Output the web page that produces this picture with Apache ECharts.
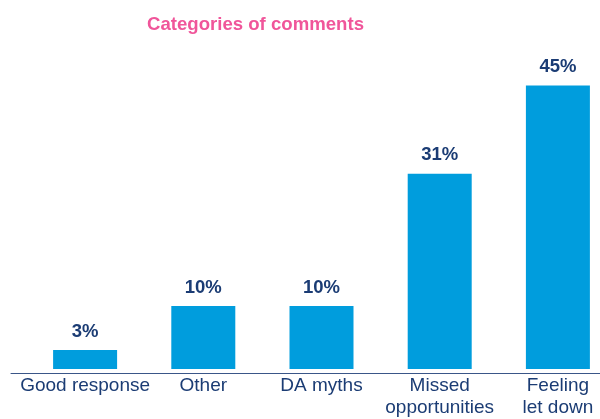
<!DOCTYPE html>
<html>
<head>
<meta charset="utf-8">
<script src="https://cdn.jsdelivr.net/npm/echarts@6/dist/echarts.min.js"></script>
<style>
  html, body { margin: 0; padding: 0; background: #ffffff; overflow: hidden; }
  /* the plot runs past the right edge of the page, so the last bar sits close to it */
  #chart { width: 617px; height: 419px; }
</style>
</head>
<body>
<div id="chart"></div>
<script>
// Comment categories and their share of all comments (%)
const categories = ['Good response', 'Other', 'DA myths', 'Missed\nopportunities', 'Feeling\nlet down'];
const shares = [3, 10, 10, 31, 45];
const chartTitle = 'Categories of comments';

const FONT = "'Liberation Sans', Arial, Helvetica, sans-serif";
const NAVY = '#1b3c74';
const BAR = '#009ddd';
const PINK = '#f0559a';

const chart = echarts.init(document.getElementById('chart'), null, { renderer: 'canvas' });

chart.setOption({
  animation: false,
  title: {
    text: chartTitle,
    left: 142,
    top: 10,
    textStyle: { color: PINK, fontFamily: FONT, fontWeight: 'bold', fontSize: 18.6 }
  },
  grid: [
    { left: 26, right: 0, top: 54, bottom: 46, containLabel: false },
    { left: 11, right: 0, top: 54, bottom: 46, containLabel: false }
  ],
  xAxis: [
    {
      type: 'category',
      gridIndex: 0,
      data: categories,
      axisLine: { show: false },
      axisTick: { show: false },
      axisLabel: {
        color: NAVY,
        fontFamily: FONT,
        fontSize: 19,
        lineHeight: 22,
        margin: 6,
        interval: 0
      }
    },
    {
      // baseline rule spanning the full width
      type: 'value',
      gridIndex: 1,
      min: 0,
      max: 1,
      axisLine: { show: true, lineStyle: { color: '#3a5688', width: 1 } },
      axisTick: { show: false },
      axisLabel: { show: false },
      splitLine: { show: false }
    }
  ],
  yAxis: [
    { type: 'value', gridIndex: 0, min: 0, max: 50, show: false },
    { type: 'value', gridIndex: 1, min: 0, max: 1, show: false }
  ],
  series: [
    {
      type: 'bar',
      xAxisIndex: 0,
      yAxisIndex: 0,
      data: shares,
      barWidth: 64,
      itemStyle: { color: BAR },
      label: {
        show: true,
        position: 'top',
        distance: 9,
        formatter: '{c}%',
        color: NAVY,
        fontFamily: FONT,
        fontWeight: 'bold',
        fontSize: 18.5
      }
    }
  ]
});
</script>
</body>
</html>
